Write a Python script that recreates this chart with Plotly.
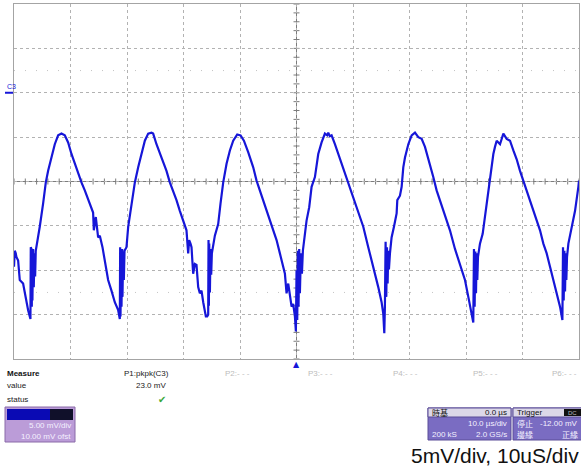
import plotly.graph_objects as go

# ---------------- data ----------------
# time in microseconds (10 us/div, trigger at 0), voltage in mV (5 mV/div, 10 mV offset)
time_us = [
    -50.0, -49.86, -49.69, -49.57, -49.27, -48.98, -48.39, -48.09, -47.8, -47.5, -47.09,
    -47.03, -46.97, -46.91, -46.85, -46.79, -46.74, -46.62, -46.5, -46.38, -46.26,
    -46.15, -45.91, -45.44, -44.85, -44.37, -43.96, -43.37, -42.78, -42.19, -41.6, -41.01,
    -40.42, -39.83, -39.24, -38.65, -38.06, -37.47, -36.88, -36.29, -36.0, -35.87, -35.52,
    -35.11, -34.81, -34.34, -34.04, -33.75, -33.63, -33.34, -32.75, -32.16, -31.56, -31.27,
    -31.21, -31.15, -31.03, -30.97, -30.86, -30.8, -30.68, -30.56, -30.44,
    -30.09, -29.79, -29.2, -28.61, -28.02, -27.43, -26.84, -26.25, -25.66, -25.37, -24.78,
    -23.89, -23.01, -22.42, -21.83, -21.24, -20.65, -20.06, -19.47, -19.17, -19.0, -18.76,
    -18.58, -18.29, -17.99, -17.7, -17.4, -17.11, -16.81, -16.51, -16.04, -15.81,
    -15.63, -15.57, -15.51, -15.45, -15.33, -15.22, -15.1, -14.98,
    -14.45, -13.86, -13.45, -12.97, -12.38, -11.79, -11.2, -10.49, -9.9, -9.31, -8.55,
    -7.66, -7.07, -6.48, -5.89, -5.3, -4.71, -4.12, -3.53, -2.94, -2.35, -2.05, -1.76,
    -1.46, -0.87, -0.58, -0.28, -0.11,
    0.01, 0.13, 0.25, 0.36, 0.48, 0.6, 0.78, 0.96, 1.13,
    1.49, 1.78, 2.25, 2.67, 3.26, 3.85, 4.44, 5.03, 5.44, 5.62, 5.91, 6.21, 6.8, 7.39,
    8.27, 9.16, 10.05, 10.93, 11.82, 12.7, 13.59, 14.47, 15.06, 15.36, 15.54,
    15.65, 15.77, 15.89, 16.01, 16.13, 16.24, 16.36, 16.54,
    16.83, 17.25, 17.72, 17.84, 18.31, 18.61, 18.9, 19.2, 19.79, 20.38, 20.97, 21.56,
    22.15, 22.74, 23.62, 24.21, 24.8, 25.39, 26.28, 27.16, 28.05, 28.93, 29.82, 30.41,
    31.0, 31.29,
    31.41, 31.53, 31.65, 31.77, 31.88, 32.0, 32.12,
    32.47, 32.95, 33.36, 33.77, 34.13, 34.54, 34.84, 35.13, 35.43, 36.02, 36.61, 37.2,
    37.79, 38.38, 38.97, 39.56, 40.15, 40.74, 41.33, 41.92, 42.51, 43.1, 43.69, 44.28,
    44.87, 45.46, 46.05, 46.64, 47.06,
    47.17, 47.29, 47.41, 47.53, 47.65, 47.76, 47.88,
    48.12, 48.71, 49.3, 49.89, 50.0,
]
volt_mv = [
    -19.6, -17.8, -18.1, -18.5, -18.9, -21.1, -21.5, -22.6, -23.8, -24.5, -25.5,
    -17.4, -25.2, -17.6, -24.1, -17.8, -23.4, -17.6, -21.9, -18.1, -20.7,
    -17.8, -17.0, -15.1, -12.5, -10.1, -8.8, -7.3, -5.8, -4.8, -4.6, -4.8,
    -5.6, -6.9, -8.0, -9.0, -10.1, -11.0, -12.0, -12.9, -13.5, -15.5, -14.0,
    -16.3, -16.1, -17.4, -18.5, -19.3, -19.6, -21.1, -22.3, -23.6, -24.5, -25.5,
    -17.4, -25.2, -17.8, -24.1, -17.6, -23.0, -17.9, -21.1, -17.8,
    -17.4, -15.1, -12.5, -10.1, -8.4, -6.9, -5.4, -4.6, -4.5, -4.6, -5.8,
    -7.3, -8.8, -10.1, -11.0, -12.1, -13.3, -14.4, -15.5, -18.1, -16.6, -17.0,
    -17.4, -20.4, -19.3, -19.4, -21.9, -22.6, -22.3, -23.6, -25.2, -25.2,
    -25.0, -16.6, -24.0, -17.0, -22.5, -17.6, -20.5, -18.1,
    -16.1, -14.8, -12.5, -10.1, -8.0, -6.5, -5.4, -4.7, -4.8, -5.4, -6.7,
    -8.4, -9.9, -11.0, -12.0, -13.3, -14.4, -15.5, -16.6, -18.1, -19.6, -20.4, -22.6,
    -21.5, -24.1, -23.8, -25.2, -26.9,
    -20.0, -25.6, -17.8, -24.1, -17.6, -22.6, -18.1, -20.4, -17.8,
    -15.5, -14.4, -12.9, -10.6, -9.5, -6.9, -5.6, -4.6, -4.8, -4.5, -4.9, -4.8, -5.8, -6.9,
    -8.4, -10.3, -11.8, -13.5, -15.1, -17.4, -19.6, -21.9, -23.6, -24.9, -27.1,
    -24.0, -16.8, -23.0, -17.4, -21.5, -17.8, -19.9, -18.1,
    -16.3, -15.1, -13.6, -12.1, -11.6, -10.6, -8.4, -7.3, -5.8, -4.8, -4.5, -5.0,
    -5.2, -6.1, -8.0, -9.5, -11.0, -12.1, -14.0, -15.5, -17.6, -19.3, -21.1, -23.0,
    -24.9, -25.9,
    -17.6, -24.1, -17.9, -22.6, -18.1, -21.1, -18.5,
    -17.0, -15.9, -14.0, -11.8, -10.3, -8.0, -6.9, -6.1, -5.4, -5.8, -4.6, -5.2,
    -5.4, -6.5, -7.5, -8.8, -9.9, -11.2, -12.1, -13.3, -14.4, -15.5, -17.0, -18.1,
    -19.6, -21.1, -22.6, -24.1, -25.6,
    -17.4, -23.4, -17.8, -22.4, -18.1, -21.1, -18.5,
    -17.0, -15.1, -13.3, -10.6, -9.9,
]
if len(time_us) != len(volt_mv):
    raise SystemExit(f"length mismatch {len(time_us)} vs {len(volt_mv)}")

x_range = [-50, 50]      # 10 divisions x 10 us
y_range = [-30, 10]      # 8 divisions x 5 mV, centre at -10 mV (10 mV offset)
trigger_time = 0.0
ground_level = 0.0

measure_cols = ["P1:pkpk(C3)", "P2:- - -", "P3:- - -", "P4:- - -", "P5:- - -", "P6:- - -"]
measure_value = "23.0 mV"
caption = "5mV/div, 10uS/div"

# ---------------- layout helpers ----------------
W, H = 581, 468
ML, MR, MT, MB = 14, 2, 4, 109
PW, PH = W - ML - MR, H - MT - MB


def X(px):
    return (px - ML) / PW


def Y(py):
    return (H - MB - py) / PH


FONT = "Arial, Liberation Sans, sans-serif"
CJK = "Noto Sans CJK TC, Arial, sans-serif"
BLUE = "#1616d8"

fig = go.Figure()
fig.add_trace(go.Scatter(x=time_us, y=volt_mv, mode="lines",
                         line=dict(color=BLUE, width=2.2),
                         hoverinfo="skip", showlegend=False))

shapes = []
# centre cross lines
shapes.append(dict(type="line", xref="x", yref="y", x0=0, x1=0, y0=y_range[0], y1=y_range[1],
                   line=dict(color="#7c7c7c", width=1), layer="below"))
shapes.append(dict(type="line", xref="x", yref="y", x0=x_range[0], x1=x_range[1], y0=-10, y1=-10,
                   line=dict(color="#7c7c7c", width=1), layer="below"))
# minor ticks on centre lines (every 1/5 division)
for k in range(0, 51):
    t = x_range[0] + k * 2
    shapes.append(dict(type="line", xref="x", yref="y", ysizemode="pixel", yanchor=-10,
                       x0=t, x1=t, y0=-3, y1=3, line=dict(color="#7c7c7c", width=1), layer="below"))
for k in range(0, 41):
    v = y_range[0] + k
    shapes.append(dict(type="line", xref="x", yref="y", xsizemode="pixel", xanchor=0,
                       x0=-3, x1=3, y0=v, y1=v, line=dict(color="#7c7c7c", width=1), layer="below"))
# faint dotted rows
for v in (2.5, -22.5):
    shapes.append(dict(type="line", xref="x", yref="y", x0=x_range[0], x1=x_range[1], y0=v, y1=v,
                       line=dict(color="#c4c4c4", width=1, dash="1px,10px"), layer="below"))
# ground marker on the left
shapes.append(dict(type="line", xref="paper", yref="y", x0=X(5), x1=X(13), y0=ground_level, y1=ground_level,
                   line=dict(color=BLUE, width=2)))

# channel descriptor box
shapes.append(dict(type="rect", xref="paper", yref="paper", x0=X(5), x1=X(75), y0=Y(442), y1=Y(407),
                   fillcolor="#bb9cd8", line=dict(color="#8a6aa8", width=1)))
shapes.append(dict(type="rect", xref="paper", yref="paper", x0=X(7), x1=X(50), y0=Y(420), y1=Y(409),
                   fillcolor="#0a0ab4", line=dict(width=0)))
shapes.append(dict(type="rect", xref="paper", yref="paper", x0=X(50), x1=X(73), y0=Y(420), y1=Y(409),
                   fillcolor="#10102a", line=dict(width=0)))
# timebase box
shapes.append(dict(type="rect", xref="paper", yref="paper", x0=X(428), x1=X(511), y0=Y(440), y1=Y(408),
                   fillcolor="#7a6cc2", line=dict(color="#5a4c98", width=1)))
shapes.append(dict(type="rect", xref="paper", yref="paper", x0=X(428), x1=X(511), y0=Y(417), y1=Y(408),
                   fillcolor="#dcd8e8", line=dict(color="#5a4c98", width=1)))
# trigger box
shapes.append(dict(type="rect", xref="paper", yref="paper", x0=X(513), x1=X(583), y0=Y(440), y1=Y(408),
                   fillcolor="#7a6cc2", line=dict(color="#5a4c98", width=1)))
shapes.append(dict(type="rect", xref="paper", yref="paper", x0=X(513), x1=X(583), y0=Y(417), y1=Y(408),
                   fillcolor="#dcd8e8", line=dict(color="#5a4c98", width=1)))
shapes.append(dict(type="rect", xref="paper", yref="paper", x0=X(564), x1=X(581), y0=Y(416), y1=Y(409),
                   fillcolor="#101010", line=dict(width=0)))

ann = []


def txt(s, px, py, anchor="left", size=8, color="#222", bold=False, font=FONT):
    ann.append(dict(text=f"<b>{s}</b>" if bold else s, xref="paper", yref="paper",
                    x=X(px), y=Y(py), xanchor=anchor, yanchor="middle", showarrow=False,
                    font=dict(family=font, size=size, color=color)))


txt("C3", 5, 86, size=7, color=BLUE)
txt("Measure", 5, 373, size=8, bold=True, color="#111")
txt("value", 5, 386, size=8)
txt("status", 5, 399, size=8)
col_right = [171, 252, 335, 420, 500, 579]
for name, cx in zip(measure_cols, col_right):
    txt(name, cx, 373, anchor="right", size=8,
        color="#222" if name.startswith("P1") else "#bcbcbc")
txt(measure_value, 168, 386, anchor="right", size=8)
txt("✔", 168, 399, anchor="right", size=10, color="#3aa83a", font="DejaVu Sans")

txt("5.00 mV/div", 73, 425, anchor="right", size=8, color="#f4f0ff")
txt("10.00 mV ofst", 73, 436, anchor="right", size=8, color="#f4f0ff")

txt("時基", 430, 412.5, size=8, color="#111", font=CJK)
txt("0.0 µs", 509, 412.5, anchor="right", size=8, color="#111")
txt("10.0 µs/div", 509, 423, anchor="right", size=8, color="#f4f0ff")
txt("200 kS", 430, 434, size=8, color="#f4f0ff")
txt("2.0 GS/s", 509, 434, anchor="right", size=8, color="#f4f0ff")

txt("Trigger", 515, 412.5, size=8, color="#111")
txt("DC", 579, 412.5, anchor="right", size=6, color="#bbbbbb")
txt("停止", 515, 423, size=8, color="#f4f0ff", font=CJK)
txt("-12.00 mV", 580, 423, anchor="right", size=8, color="#f4f0ff")
txt("邊緣", 515, 434, size=8, color="#f4f0ff", font=CJK)
txt("正緣", 580, 434, anchor="right", size=8, color="#f4f0ff", font=CJK)

txt(caption, 581, 455, anchor="right", size=21, color="#111")

# trigger position marker below the grid
ann.append(dict(text="▲", xref="x", yref="paper", x=trigger_time, y=Y(358), xanchor="center",
                yanchor="top", showarrow=False, font=dict(family="DejaVu Sans", size=8, color=BLUE)))

fig.update_layout(
    width=W, height=H,
    margin=dict(l=ML, r=MR, t=MT, b=MB, pad=0),
    paper_bgcolor="white", plot_bgcolor="white",
    showlegend=False,
    xaxis=dict(range=x_range, dtick=10, tick0=-50, showgrid=True, gridcolor="#b2b2b2",
               griddash="dot", gridwidth=1, zeroline=False, showticklabels=False, ticks="",
               showline=True, mirror=True, linecolor="#a4a4a4", linewidth=1, fixedrange=True),
    yaxis=dict(range=y_range, dtick=5, tick0=-30, showgrid=True, gridcolor="#b2b2b2",
               griddash="dot", gridwidth=1, zeroline=False, showticklabels=False, ticks="",
               showline=True, mirror=True, linecolor="#a4a4a4", linewidth=1, fixedrange=True),
    shapes=shapes,
    annotations=ann,
)

fig.write_html("out.html", config={"displayModeBar": False, "staticPlot": True},
               post_script="document.body.style.margin='0';document.body.style.padding='0';"
                           "document.documentElement.style.overflow='hidden';")
